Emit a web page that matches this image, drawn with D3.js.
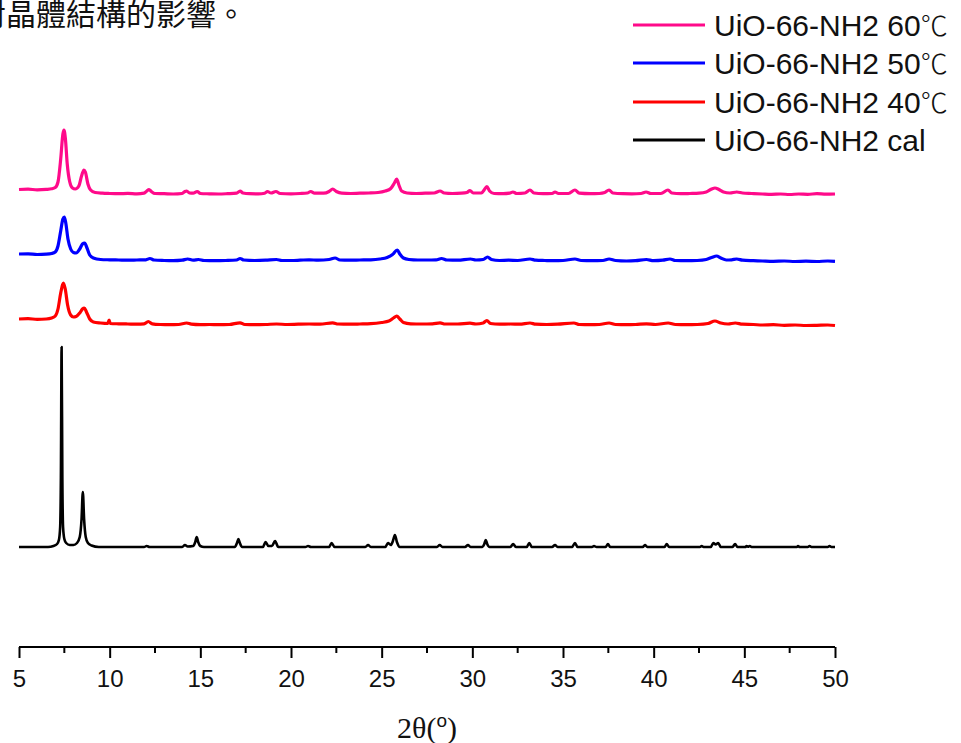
<!DOCTYPE html>
<html>
<head>
<meta charset="utf-8">
<script src="https://cdn.jsdelivr.net/npm/d3@7/dist/d3.min.js"></script>
<style>
    body { margin: 0; background: #fff; }
    svg { display: block; }
</style>
</head>
<body>
<div id="chart"></div>
<script>
// series names, colours and vertical offsets (a.u.)
const seriesNames = ['UiO-66-NH2 60', 'UiO-66-NH2 50', 'UiO-66-NH2 40', 'UiO-66-NH2 cal'];
const seriesUnits = ['℃', '℃', '℃', ''];
const seriesColors = ['#ff0a8a', '#0000ff', '#ff0000', '#000000'];
const seriesOffsets = [353, 286, 222, 0];

const xTicks = [5, 10, 15, 20, 25, 30, 35, 40, 45, 50];

// [2theta, intensity]
const pink60 = [
    [5, 4.5], [5.5, 4.8], [6, 4.2], [6.5, 4.6], [6.8, 5.2], [7.0, 6.5], [7.15, 12], [7.3, 35], [7.42, 60], [7.48, 64],
    [7.56, 55], [7.66, 30], [7.8, 12], [7.95, 6], [8.1, 5], [8.3, 8], [8.45, 18], [8.58, 24], [8.66, 22], [8.8, 10],
    [8.95, 4], [9.2, 1.5], [9.6, 0.8], [10, 0.5], [10.5, 0.3], [11, 0.6], [11.5, 0.2], [11.9, 0.8], [12.05, 3], [12.17, 4.5],
    [12.3, 2.5], [12.5, 0.5], [13, 0.3], [13.5, 0], [14.0, 0.5], [14.15, 2.5], [14.25, 3], [14.4, 1], [14.6, 0.8], [14.83, 2.5],
    [15.0, 0.5], [15.5, 0.2], [16, 0], [16.5, 0.3], [17.0, 0.8], [17.19, 3], [17.35, 1], [17.7, 0.3], [18.2, 0.2], [18.55, 0.8],
    [18.7, 2.5], [18.9, 1], [19.17, 2.5], [19.4, 0.5], [20, 0.2], [20.5, 0.5], [20.9, 1], [21.09, 2.5], [21.3, 0.8], [21.8, 0.8],
    [22.1, 2.5], [22.3, 5], [22.5, 2.5], [22.8, 0.8], [23.3, 0.5], [23.8, 0.8], [24.3, 1], [24.8, 1.5], [25.2, 3], [25.5, 5.5],
    [25.7, 11], [25.83, 15], [25.95, 9], [26.1, 3], [26.4, 1], [26.9, 0.5], [27.4, 0.8], [27.9, 1], [28.22, 3], [28.45, 1],
    [28.9, 0.5], [29.4, 0.8], [29.7, 1.5], [29.87, 3.5], [30.05, 1], [30.5, 1], [30.65, 4], [30.8, 7.5], [30.95, 3], [31.2, 0.5],
    [31.7, 0.3], [32.05, 0.8], [32.24, 2], [32.45, 0.5], [32.9, 1], [33.18, 4], [33.4, 1], [33.9, 0.3], [34.4, 0.5], [34.56, 2],
    [34.75, 0.5], [35.3, 0.5], [35.66, 4], [35.9, 0.8], [36.5, 0.3], [37.0, 0.5], [37.3, 1.5], [37.54, 4], [37.75, 1], [38.3, 0.3],
    [38.8, 0.2], [39.3, 0.5], [39.58, 2], [39.85, 0.5], [40.4, 0.5], [40.79, 4], [41.0, 1], [41.5, 0.3], [42, 0.5], [42.5, 0.8],
    [42.9, 2], [43.2, 5], [43.38, 6], [43.6, 4.5], [43.85, 2], [44.2, 1], [44.58, 2], [44.9, 1], [45.4, 0.5], [46, 0],
    [46.5, -0.3], [47, 0], [47.5, -0.5], [48, 0], [48.5, -0.3], [49, 0.3], [49.5, -0.2], [50, 0]
];

const blue50 = [
    [5, 7], [5.5, 7.2], [6, 6.5], [6.5, 6.8], [6.8, 7.5], [7.0, 9], [7.15, 15], [7.3, 30], [7.42, 42], [7.5, 44],
    [7.58, 38], [7.7, 22], [7.85, 12], [8.0, 8.5], [8.15, 8], [8.35, 12], [8.5, 17], [8.62, 18], [8.75, 13], [8.9, 6],
    [9.1, 3], [9.5, 1.5], [10, 1.2], [10.5, 1], [11, 0.8], [11.5, 1], [12.0, 1.2], [12.22, 2.5], [12.45, 1], [13, 0.5],
    [13.5, 0.3], [14.0, 0.8], [14.3, 2], [14.6, 0.8], [14.9, 1.5], [15.2, 0.5], [15.8, 0.3], [16.4, 0.5], [17.0, 1], [17.19, 2.5],
    [17.4, 1], [18, 0.5], [18.6, 0.8], [19.2, 1.5], [19.5, 0.5], [20, 0.5], [20.5, 0.8], [21, 1.2], [21.5, 0.8], [22.1, 1.5],
    [22.43, 3], [22.7, 1], [23.2, 0.8], [23.8, 1], [24.4, 1.2], [24.9, 2], [25.3, 3.5], [25.6, 6.5], [25.86, 11], [26.0, 7],
    [26.2, 3], [26.5, 1.5], [27, 1], [27.5, 1], [28.0, 1.2], [28.3, 2.5], [28.6, 1], [29.2, 0.8], [29.9, 2], [30.2, 1],
    [30.6, 1.5], [30.84, 4], [31.05, 1.5], [31.5, 0.5], [32, 0.8], [32.5, 0.5], [33.18, 2], [33.5, 0.8], [34, 0.5], [34.5, 0.3],
    [35, 0.5], [35.66, 2], [36, 0.5], [36.6, 0.3], [37.2, 0.5], [37.54, 2], [37.9, 0.5], [38.5, 0], [39, 0.3], [39.6, 1.5],
    [40, 0.3], [40.5, 0.8], [40.9, 2], [41.2, 0.5], [41.8, 0.3], [42.4, 0.5], [42.9, 1.5], [43.2, 3.5], [43.47, 5], [43.7, 3],
    [44, 1], [44.3, 1.2], [44.58, 2], [44.9, 0.8], [45.5, 0.3], [46, 0], [46.6, -0.3], [47.2, 0], [47.8, -0.5], [48.4, -0.2],
    [49, -0.5], [49.6, 0], [50, -0.3]
];

const red40 = [
    [5, 6], [5.5, 6.3], [6, 5.7], [6.5, 6], [6.8, 7], [7.0, 9], [7.15, 16], [7.3, 32], [7.4, 40], [7.45, 42],
    [7.55, 36], [7.68, 20], [7.85, 10], [8.0, 8], [8.15, 8.5], [8.35, 12], [8.5, 16], [8.6, 17], [8.72, 13], [8.9, 6],
    [9.1, 3], [9.5, 2], [9.9, 1.5], [9.97, 5], [10.03, 1.5], [10.5, 1.2], [11, 1], [11.5, 0.8], [11.9, 1.2], [12.13, 3.5],
    [12.35, 1.2], [12.8, 0.5], [13.3, 0.3], [13.8, 0.5], [14.25, 2], [14.5, 0.8], [15, 0.3], [15.5, 0.5], [16, 0.3], [16.6, 0.5],
    [17.19, 2.2], [17.45, 0.5], [18, 0.3], [18.6, 0.5], [19.2, 1], [19.8, 0.5], [20.4, 0.8], [21, 1], [21.6, 0.8], [22.3, 2.2],
    [22.6, 1], [23.2, 0.8], [23.8, 1], [24.4, 1.3], [25, 2.5], [25.4, 4], [25.65, 7], [25.83, 9], [26.0, 6], [26.2, 2.5],
    [26.6, 1.2], [27.2, 1], [27.8, 1.2], [28.22, 2.2], [28.5, 1], [29.2, 1], [29.87, 1.8], [30.2, 1], [30.6, 2], [30.8, 4.5],
    [31.0, 1.5], [31.5, 0.8], [32.1, 1], [32.6, 0.8], [33.18, 2], [33.5, 0.8], [34.1, 0.5], [34.7, 0.8], [35.6, 2], [35.9, 0.5],
    [36.5, 0.3], [37.0, 0.5], [37.54, 2], [37.9, 0.5], [38.5, 0.3], [39.0, 0.5], [39.6, 1.2], [40.1, 0.5], [40.8, 2], [41.2, 0.5],
    [41.8, 0.3], [42.4, 0.5], [43.0, 1.5], [43.38, 4], [43.7, 2], [44.1, 1], [44.5, 2], [44.9, 0.8], [45.5, 0.5], [46, 0],
    [46.6, 0.3], [47.2, -0.3], [47.8, 0], [48.4, -0.5], [49, -0.3], [49.6, 0], [50, -0.5]
];

const blackCal = [
    [5, 0], [6.6, 0], [6.9, 1], [7.1, 3], [7.2, 7], [7.27, 20], [7.31, 70], [7.35, 200], [7.39, 70], [7.43, 20],
    [7.5, 8], [7.6, 4], [7.8, 2], [8.0, 2], [8.2, 4], [8.35, 10], [8.45, 28], [8.52, 55], [8.59, 28], [8.68, 10],
    [8.8, 4], [9.0, 1.5], [9.4, 0], [11.9, 0], [12.04, 1], [12.2, 0], [14.0, 0], [14.15, 2], [14.3, 0.5], [14.6, 1],
    [14.72, 5], [14.8, 10], [14.88, 5], [15.0, 1], [15.2, 0], [16.9, 0], [17.02, 4], [17.1, 8], [17.18, 4], [17.3, 0],
    [18.45, 0], [18.6, 5], [18.75, 1], [18.95, 1], [19.12, 6], [19.3, 0], [20.8, 0], [20.94, 1], [21.1, 0], [22.1, 0],
    [22.24, 4], [22.4, 0], [24.1, 0], [24.25, 2], [24.4, 0], [25.2, 0], [25.35, 4], [25.5, 2], [25.62, 6], [25.73, 12],
    [25.84, 5], [26.0, 0], [28.05, 0], [28.2, 2], [28.35, 0], [29.6, 0], [29.76, 2], [29.9, 0], [30.55, 0], [30.66, 3],
    [30.74, 7], [30.82, 3], [30.95, 0], [32.1, 0], [32.25, 3], [32.4, 0], [33.0, 0], [33.14, 4], [33.28, 0], [34.4, 0],
    [34.56, 2], [34.7, 0], [35.5, 0], [35.66, 4], [35.8, 0], [36.6, 0], [36.71, 1], [36.85, 0], [37.35, 0], [37.48, 3],
    [37.6, 0], [39.4, 0], [39.52, 2], [39.65, 0], [40.6, 0], [40.72, 3], [40.85, 0], [42.55, 0], [42.65, 1], [42.75, 0],
    [43.15, 0], [43.29, 4], [43.42, 2.5], [43.56, 4], [43.7, 0], [44.35, 0], [44.49, 3], [44.62, 0], [45.05, 0], [45.13, 1],
    [45.2, 0.3], [45.3, 1], [45.4, 0], [47.9, 0], [47.96, 1], [48.05, 0], [48.5, 0], [48.6, 1], [48.7, 0], [49.6, 0],
    [49.7, 1], [49.8, 0], [50, 0]
];

const seriesData = [pink60, blue50, red40, blackCal];

const width = 961, height = 743;
const svg = d3.select('#chart').append('svg')
    .attr('width', width)
    .attr('height', height);

const x = d3.scaleLinear().domain([5, 50]).range([19, 835]);
const y = d3.scaleLinear().domain([0, 500]).range([547, 47]);

// cut-off caption above the plot (its first character runs off the left edge)
svg.append('text')
    .attr('x', -24)
    .attr('y', 25)
    .attr('font-family', '"Noto Sans CJK TC", "Noto Sans CJK SC", sans-serif')
    .attr('font-size', 30)
    .attr('font-weight', 400)
    .attr('fill', '#111')
    .text('對晶體結構的影響。');

// curves
const line = d3.line()
    .x(d => x(d[0]))
    .y(d => y(d[1]))
    .curve(d3.curveMonotoneX);

seriesData.forEach((data, i) => {
    const off = seriesOffsets[i];
    svg.append('path')
        .datum(data.map(d => [d[0], d[1] + off]))
        .attr('fill', 'none')
        .attr('stroke', seriesColors[i])
        .attr('stroke-width', i === 3 ? 2.6 : 3.2)
        .attr('stroke-linejoin', 'round')
        .attr('d', line);
});

// x axis with minor ticks
const axisY = 647;
const gx = svg.append('g').attr('transform', `translate(0,${axisY})`);
gx.call(d3.axisBottom(x).tickValues(xTicks).tickSize(11).tickPadding(12).tickFormat(d3.format('d')));
gx.select('.domain').attr('stroke', '#000').attr('stroke-width', 2)
    .attr('d', `M${x(5)},0H${x(50)}`);
gx.selectAll('.tick line').attr('stroke', '#000').attr('stroke-width', 2);
gx.selectAll('.tick text')
    .attr('fill', '#111')
    .attr('font-family', '"Liberation Sans", Arial, sans-serif')
    .attr('font-size', 24);

const minorTicks = d3.range(7.5, 50, 5);
gx.selectAll('.minor')
    .data(minorTicks)
    .enter()
    .append('line')
    .attr('class', 'minor')
    .attr('x1', d => x(d))
    .attr('x2', d => x(d))
    .attr('y1', 0)
    .attr('y2', 6)
    .attr('stroke', '#000')
    .attr('stroke-width', 2);

// axis title 2θ(°)
const title = svg.append('text')
    .attr('x', (x(5) + x(50)) / 2)
    .attr('y', 738)
    .attr('text-anchor', 'middle')
    .attr('font-family', '"Liberation Serif", "Times New Roman", serif')
    .attr('font-size', 30)
    .attr('fill', '#111');
title.append('tspan').text('2θ(');
title.append('tspan').attr('dy', -11).attr('font-size', 19)
    .attr('font-family', '"Liberation Sans", Arial, sans-serif').text('o');
title.append('tspan').attr('dy', 11).text(')');

// legend
const legend = svg.append('g');
const legendRows = [25, 63, 102, 140];
seriesNames.forEach((name, i) => {
    const ly = legendRows[i];
    legend.append('line')
        .attr('x1', 633).attr('x2', 705)
        .attr('y1', ly).attr('y2', ly)
        .attr('stroke', seriesColors[i])
        .attr('stroke-width', 3);
    const t = legend.append('text')
        .attr('x', 714)
        .attr('y', ly + 11)
        .attr('font-family', '"Liberation Sans", Arial, sans-serif')
        .attr('font-size', 30)
        .attr('fill', '#111');
    t.append('tspan').text(name);
    if (seriesUnits[i]) {
        t.append('tspan')
            .attr('font-family', '"Noto Sans CJK TC", "Noto Sans CJK SC", sans-serif')
            .attr('font-weight', 200)
            .attr('font-size', 27)
            .text(seriesUnits[i]);
    }
});
</script>
</body>
</html>
